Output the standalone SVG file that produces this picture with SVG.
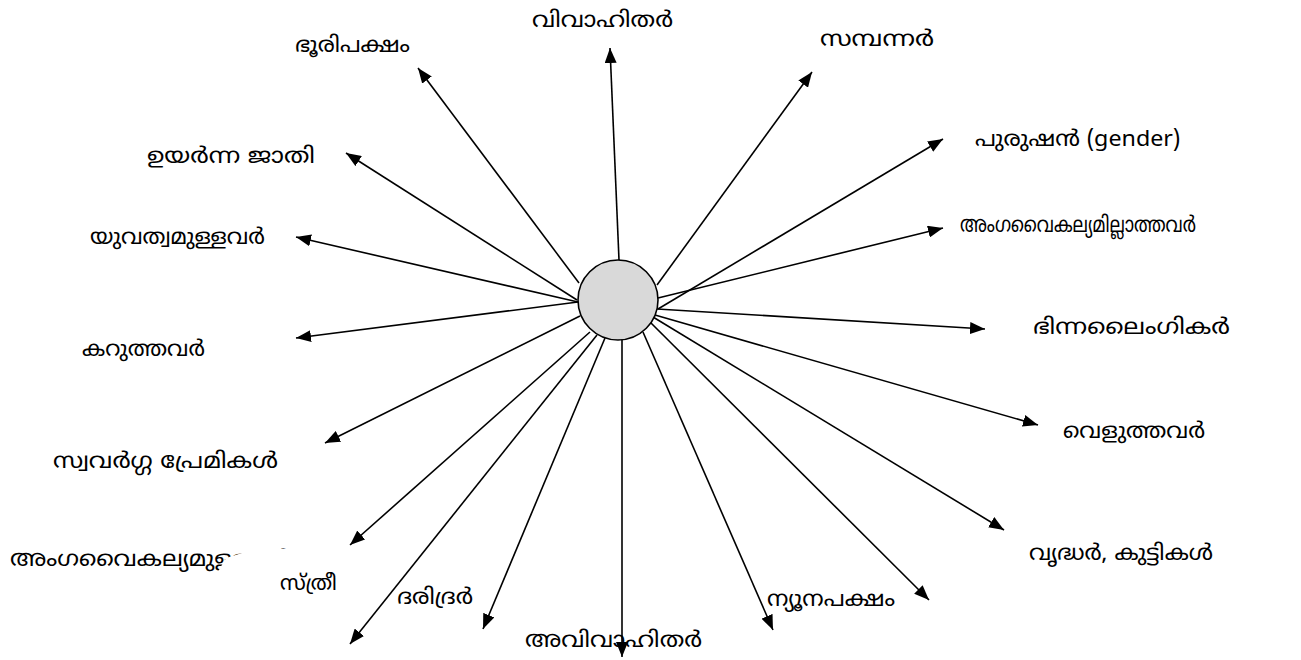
<svg xmlns="http://www.w3.org/2000/svg" width="1301" height="660" viewBox="0 0 1301 660">
<style>
.lbl{font-family:"Noto Sans Malayalam","DejaVu Sans","Noto Sans",sans-serif;font-size:22px;fill:#000}
.c{stroke:#000;stroke-width:1.6;fill:none;marker-end:url(#ah)}
</style>
<defs>
<marker id="ah" markerUnits="userSpaceOnUse" markerWidth="16" markerHeight="12" refX="15" refY="6" orient="auto">
<path d="M0,0 L15,6 L0,12 z" fill="#000"/>
</marker>
</defs>
<rect width="1301" height="660" fill="#fff"/>
<g id="connectors">
<line class="c" x1="579" y1="283" x2="418" y2="68"/>
<line class="c" x1="619" y1="260" x2="610" y2="48"/>
<line class="c" x1="657" y1="285" x2="812" y2="72"/>
<line class="c" x1="658" y1="309" x2="943" y2="139"/>
<line class="c" x1="658" y1="298" x2="943" y2="228"/>
<line class="c" x1="657" y1="309" x2="985" y2="329"/>
<line class="c" x1="655" y1="315" x2="1038" y2="425"/>
<line class="c" x1="653" y1="317" x2="1004" y2="530"/>
<line class="c" x1="650" y1="322" x2="929" y2="600"/>
<line class="c" x1="643" y1="332" x2="773" y2="630"/>
<line class="c" x1="622" y1="339" x2="622" y2="657"/>
<line class="c" x1="605" y1="338" x2="483" y2="629"/>
<line class="c" x1="597" y1="335" x2="350" y2="644"/>
<line class="c" x1="590" y1="332" x2="350" y2="545"/>
<line class="c" x1="580" y1="316" x2="325" y2="443"/>
<line class="c" x1="578" y1="302" x2="296" y2="338"/>
<line class="c" x1="578" y1="302" x2="296" y2="237"/>
<line class="c" x1="577" y1="300" x2="346" y2="153"/>
</g>
<g id="center"><circle cx="618" cy="300" r="40" fill="#d9d9d9" stroke="#000" stroke-width="1.6"/></g>
<g id="n-bhooripaksham"><text class="lbl" x="295" y="52" textLength="115" lengthAdjust="spacingAndGlyphs">ഭൂരിപക്ഷം</text></g>
<g id="n-vivahithar"><text class="lbl" x="532" y="27" textLength="141" lengthAdjust="spacingAndGlyphs">വിവാഹിതർ</text></g>
<g id="n-sampannar"><text class="lbl" x="820" y="46" textLength="114" lengthAdjust="spacingAndGlyphs">സമ്പന്നർ</text></g>
<g id="n-purushan"><text class="lbl" x="975" y="146" textLength="205" lengthAdjust="spacingAndGlyphs">പുരുഷൻ (gender)</text></g>
<g id="n-angavaikalyamillathavar"><text class="lbl" x="960" y="232" textLength="236" lengthAdjust="spacingAndGlyphs">അംഗവൈകല്യമില്ലാത്തവർ</text></g>
<g id="n-bhinnalaingikar"><text class="lbl" x="1033" y="334" textLength="197" lengthAdjust="spacingAndGlyphs">ഭിന്നലൈംഗികർ</text></g>
<g id="n-veluthavar"><text class="lbl" x="1063" y="438" textLength="142" lengthAdjust="spacingAndGlyphs">വെളുത്തവർ</text></g>
<g id="n-vruddhar"><text class="lbl" x="1029" y="560" textLength="184" lengthAdjust="spacingAndGlyphs">വൃദ്ധർ, കുട്ടികൾ</text></g>
<g id="n-nyoonapaksham"><text class="lbl" x="767" y="606" textLength="128" lengthAdjust="spacingAndGlyphs">ന്യൂനപക്ഷം</text></g>
<g id="n-avivahithar"><text class="lbl" x="525" y="647" textLength="177" lengthAdjust="spacingAndGlyphs">അവിവാഹിതർ</text></g>
<g id="n-daridrar"><text class="lbl" x="397" y="604" textLength="76" lengthAdjust="spacingAndGlyphs">ദരിദ്രർ</text></g>
<g id="n-angavaikalyamullavar"><text class="lbl" x="10" y="566" textLength="280" lengthAdjust="spacingAndGlyphs">അംഗവൈകല്യമുള്ളവർ</text>
<polygon points="213,580 226,558 242,553 276,549 330,549 330,600 213,600" fill="#fff"/></g>
<g id="n-sthree"><text class="lbl" x="280" y="590" style="font-size:21px">സ്ത്രീ</text></g>
<g id="n-swavargga"><text class="lbl" x="53" y="468" textLength="225" lengthAdjust="spacingAndGlyphs">സ്വവർഗ്ഗ പ്രേമികൾ</text></g>
<g id="n-karuthavar"><text class="lbl" x="82" y="356" textLength="123" lengthAdjust="spacingAndGlyphs">കറുത്തവർ</text></g>
<g id="n-yuvathwam"><text class="lbl" x="90" y="244" textLength="175" lengthAdjust="spacingAndGlyphs">യുവത്വമുള്ളവർ</text></g>
<g id="n-uyarnna"><text class="lbl" x="147" y="163" textLength="168" lengthAdjust="spacingAndGlyphs">ഉയർന്ന ജാതി</text></g>
</svg>
